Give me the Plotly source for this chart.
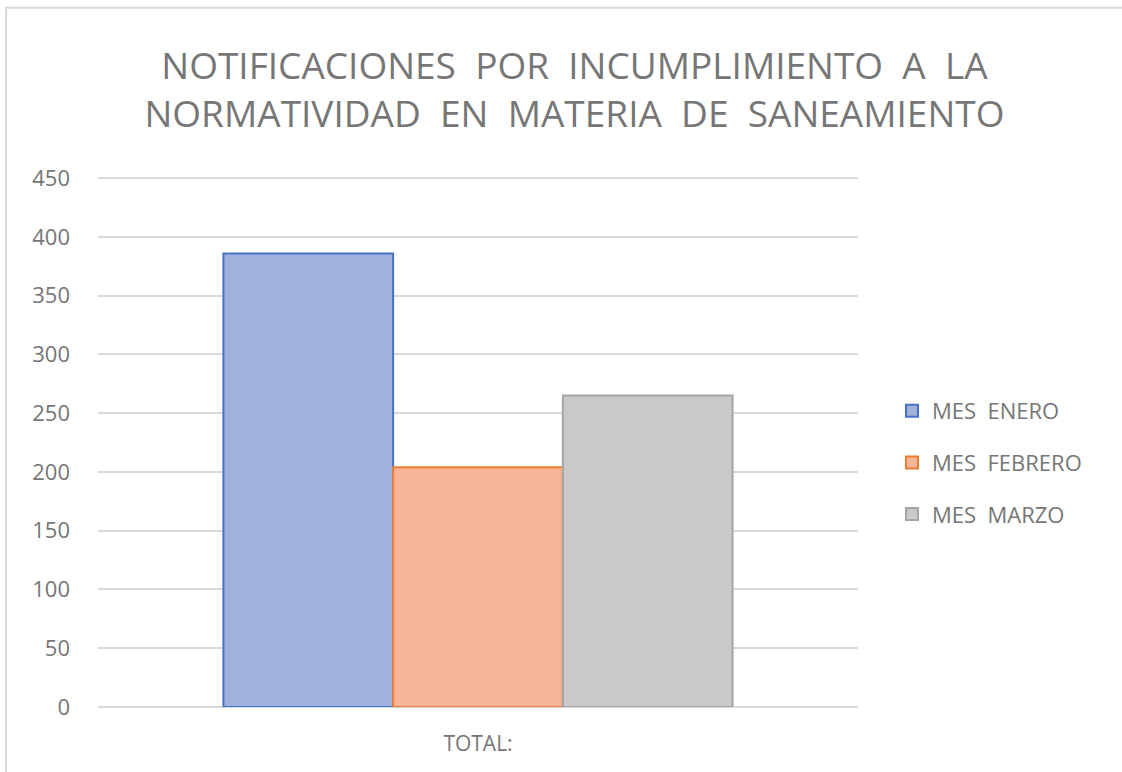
import plotly.graph_objects as go

categories = ["TOTAL:"]
series_names = ["MES\u00a0 ENERO", "MES\u00a0 FEBRERO", "MES\u00a0 MARZO"]
series_values = [[386], [204], [265]]
fill_colors = ["#A0B1DC", "#F7B496", "#C9C9C9"]
line_colors = ["#4472C4", "#ED7D31", "#A5A5A5"]
y_ticks = [0, 50, 100, 150, 200, 250, 300, 350, 400, 450]

fig = go.Figure()
for i, (name, vals) in enumerate(zip(series_names, series_values)):
    fig.add_trace(go.Bar(
        x=categories, y=vals, name=name, legendgroup=f"g{i}",
        marker=dict(color=fill_colors[i], line=dict(color=line_colors[i], width=2)),
    ))

font_family = "Open Sans"
gray = "#767676"
sp = "\u00a0 "

fig.update_layout(
    width=1122, height=772,
    paper_bgcolor="white", plot_bgcolor="white",
    margin=dict(l=98, r=264, t=177, b=65),
    barmode="group", bargap=0.33, bargroupgap=0,
    title=dict(
        text=sp.join(["NOTIFICACIONES", "POR", "INCUMPLIMIENTO", "A", "LA"]) + "<br>" +
             sp.join(["NORMATIVIDAD", "EN", "MATERIA", "DE", "SANEAMIENTO"]),
        x=0.512, xanchor="center", xref="container",
        y=1 - 79 / 772, yanchor="middle", yref="container",
        font=dict(family=font_family, size=37, color=gray),
    ),
    font=dict(family=font_family, color=gray),
    xaxis=dict(showline=False, showgrid=False, ticks="", ticklabelstandoff=22,
               tickfont=dict(size=21, color=gray, family=font_family)),
    yaxis=dict(range=[0, 451], tickvals=y_ticks, showgrid=True, gridcolor="#D9D9D9",
               gridwidth=2, zeroline=True, zerolinecolor="#D9D9D9", zerolinewidth=2,
               showline=False, ticks="", ticklabelstandoff=27,
               tickfont=dict(size=22, color=gray, family=font_family)),
    legend=dict(x=0.795, xref="container", xanchor="left",
                y=(707 - 463) / 529, yanchor="middle",
                font=dict(size=22, color=gray, family=font_family),
                tracegroupgap=20, traceorder="grouped", bgcolor="rgba(0,0,0,0)"),
    showlegend=True,
)

fig.add_shape(type="rect", xref="paper", yref="paper",
              x0=-0.121, x1=1.5, y0=-0.3, y1=1.3195,
              line=dict(color="#D9D9D9", width=2), fillcolor="rgba(0,0,0,0)", layer="below")

fig.write_html("out.html", config={"displayModeBar": False},
               post_script="document.body.style.margin='0';")
